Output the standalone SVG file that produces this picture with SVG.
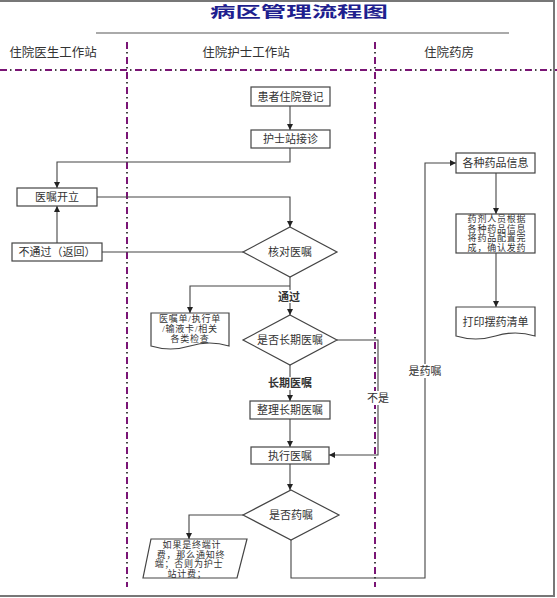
<svg xmlns="http://www.w3.org/2000/svg" width="557" height="598" viewBox="0 0 557 598">
<style>
  text { font-family: "Liberation Serif", "Noto Sans CJK SC", serif; fill: #333; }
  .t { font-size: 11px; text-anchor: middle; dominant-baseline: central; }
  .s { font-size: 9px; text-anchor: middle; dominant-baseline: central; letter-spacing: 0.8px; }
  .lane { font-size: 12.5px; text-anchor: middle; dominant-baseline: central; }
  .lbl { font-size: 11px; text-anchor: middle; dominant-baseline: central; font-weight: bold; }
  .box { fill: #fff; stroke: #444; stroke-width: 1.2; }
  .con { fill: none; stroke: #444; stroke-width: 1.1; }
  .arr { marker-end: url(#ah); }
  .pd { stroke: #7a1575; stroke-width: 2; stroke-dasharray: 7 8; fill: none; }
  .dd { stroke: #444; stroke-width: 2; stroke-dasharray: 1.5 13.5; stroke-dashoffset: -10; fill: none; }
  .bg { fill: #fff; }
</style>
<defs>
  <marker id="ah" viewBox="0 0 10 10" refX="10" refY="5" markerWidth="6" markerHeight="6" markerUnits="userSpaceOnUse" orient="auto">
    <path d="M0,0 L10,5 L0,10 Z" fill="#222"/>
  </marker>
</defs>
<rect x="0" y="0" width="557" height="598" fill="#fff"/>

<!-- frame -->
<g id="frame" stroke="#777" stroke-width="2" fill="none">
  <line x1="0" y1="1" x2="554" y2="1"/>
  <line x1="554" y1="0" x2="554" y2="597"/>
  <line x1="0" y1="596" x2="555" y2="596"/>
</g>

<!-- title -->
<g id="title">
  <text x="210" y="17" font-size="15" font-weight="bold" textLength="178" lengthAdjust="spacingAndGlyphs" style="fill:#1f1f8f">病区管理流程图</text>
  <line x1="96" y1="33" x2="509" y2="33" stroke="#aaa" stroke-width="2"/>
</g>

<!-- lanes -->
<g id="lanes">
  <text class="lane" x="53" y="53">住院医生工作站</text>
  <text class="lane" x="246" y="53">住院护士工作站</text>
  <text class="lane" x="449" y="53">住院药房</text>
  <line class="pd" x1="0" y1="70" x2="557" y2="70"/>
  <line class="dd" x1="0" y1="70" x2="557" y2="70"/>
  <line class="pd" x1="127" y1="42" x2="127" y2="587"/>
  <line class="dd" x1="127" y1="42" x2="127" y2="587"/>
  <line class="pd" x1="375" y1="42" x2="375" y2="587"/>
  <line class="dd" x1="375" y1="42" x2="375" y2="587"/>
</g>

<!-- connectors -->
<g id="connectors">
  <path class="con arr" d="M290,106 V130"/>
  <path class="con arr" d="M290,148 V162 H57 V188"/>
  <path class="con arr" d="M97,197 H290 V227"/>
  <path class="con" d="M243,252 H102"/>
  <path class="con arr" d="M57,243 V206"/>
  <path class="con arr" d="M290,277 V315"/>
  <path class="con arr" d="M290,286 H190 V313"/>
  <path class="con arr" d="M337,340 H378 V455 H329"/>
  <path class="con arr" d="M290,365 V401"/>
  <path class="con arr" d="M290,419 V447"/>
  <path class="con arr" d="M290,464 V490"/>
  <path class="con arr" d="M243,515 H189 V539"/>
  <path class="con arr" d="M291,540 V578 H425 V163 H456"/>
  <path class="con arr" d="M496,173 V214"/>
  <path class="con arr" d="M496,253 V307"/>
  <rect class="bg" x="277" y="290" width="25" height="13"/>
  <text class="lbl" x="289" y="297">通过</text>
  <rect class="bg" x="266" y="377" width="48" height="13"/>
  <text class="lbl" x="290" y="383">长期医嘱</text>
  <rect class="bg" x="366" y="391" width="24" height="14"/>
  <text class="t" x="378" y="398">不是</text>
  <rect class="bg" x="408" y="364" width="34" height="14"/>
  <text class="t" x="425" y="371">是药嘱</text>
</g>

<!-- nodes -->
<g id="n-register">
  <rect class="box" x="251" y="87" width="79" height="19"/>
  <text class="t" x="290.5" y="96.5">患者住院登记</text>
</g>
<g id="n-nurse">
  <rect class="box" x="251" y="130" width="79" height="18"/>
  <text class="t" x="290.5" y="139">护士站接诊</text>
</g>
<g id="n-order">
  <rect class="box" x="17" y="188" width="80" height="18"/>
  <text class="t" x="57" y="197">医嘱开立</text>
</g>
<g id="n-reject">
  <rect class="box" x="12" y="243" width="90" height="18"/>
  <text class="t" x="57" y="252">不通过（返回）</text>
</g>
<g id="n-check">
  <path class="box" d="M290,227 L337,252 L290,277 L243,252 Z"/>
  <text class="t" x="290" y="252">核对医嘱</text>
</g>
<g id="n-docs">
  <path class="box" d="M151,313 H229 V346 Q209.5,340 190,346 Q170.5,352 151,346 Z"/>
  <text class="s" x="190" y="319">医嘱单/执行单</text>
  <text class="s" x="190" y="329">/输液卡/相关</text>
  <text class="s" x="190" y="339">各类检查</text>
</g>
<g id="n-long">
  <path class="box" d="M290,315 L337,340 L290,365 L243,340 Z"/>
  <text class="t" x="290" y="340">是否长期医嘱</text>
</g>
<g id="n-arrange">
  <rect class="box" x="250" y="401" width="80" height="18"/>
  <text class="t" x="290" y="410">整理长期医嘱</text>
</g>
<g id="n-exec">
  <rect class="box" x="251" y="447" width="78" height="17"/>
  <text class="t" x="290" y="455.5">执行医嘱</text>
</g>
<g id="n-drug">
  <path class="box" d="M291,490 L339,515 L291,540 L243,515 Z"/>
  <text class="t" x="291" y="515">是否药嘱</text>
</g>
<g id="n-bill">
  <path class="box" d="M151,539 L247,539 L237,578 L143,578 Z"/>
  <text class="s" x="192" y="545">如果是终端计</text>
  <text class="s" x="191" y="554.5">费，那么通知终</text>
  <text class="s" x="189" y="564">端；否则为护士</text>
  <text class="s" x="187" y="573.5">站计费；</text>
</g>
<g id="n-info">
  <rect class="box" x="456" y="153" width="79" height="20"/>
  <text class="t" x="495.5" y="163">各种药品信息</text>
</g>
<g id="n-pharm">
  <rect class="box" x="456" y="214" width="79" height="39"/>
  <text class="s" x="497" y="219" letter-spacing="2.6">药剂人员根据</text>
  <text class="s" x="497" y="228.5" letter-spacing="2.6">各种药品信息</text>
  <text class="s" x="497" y="238" letter-spacing="2.6">将药品配置完</text>
  <text class="s" x="497" y="247.5" letter-spacing="2.6">成，确认发药</text>
</g>
<g id="n-print">
  <path class="box" d="M456,307 H535 V336 Q515.25,330 495.5,336 Q475.75,342 456,336 Z"/>
  <text class="t" x="495.5" y="322">打印摆药清单</text>
</g>
</svg>
